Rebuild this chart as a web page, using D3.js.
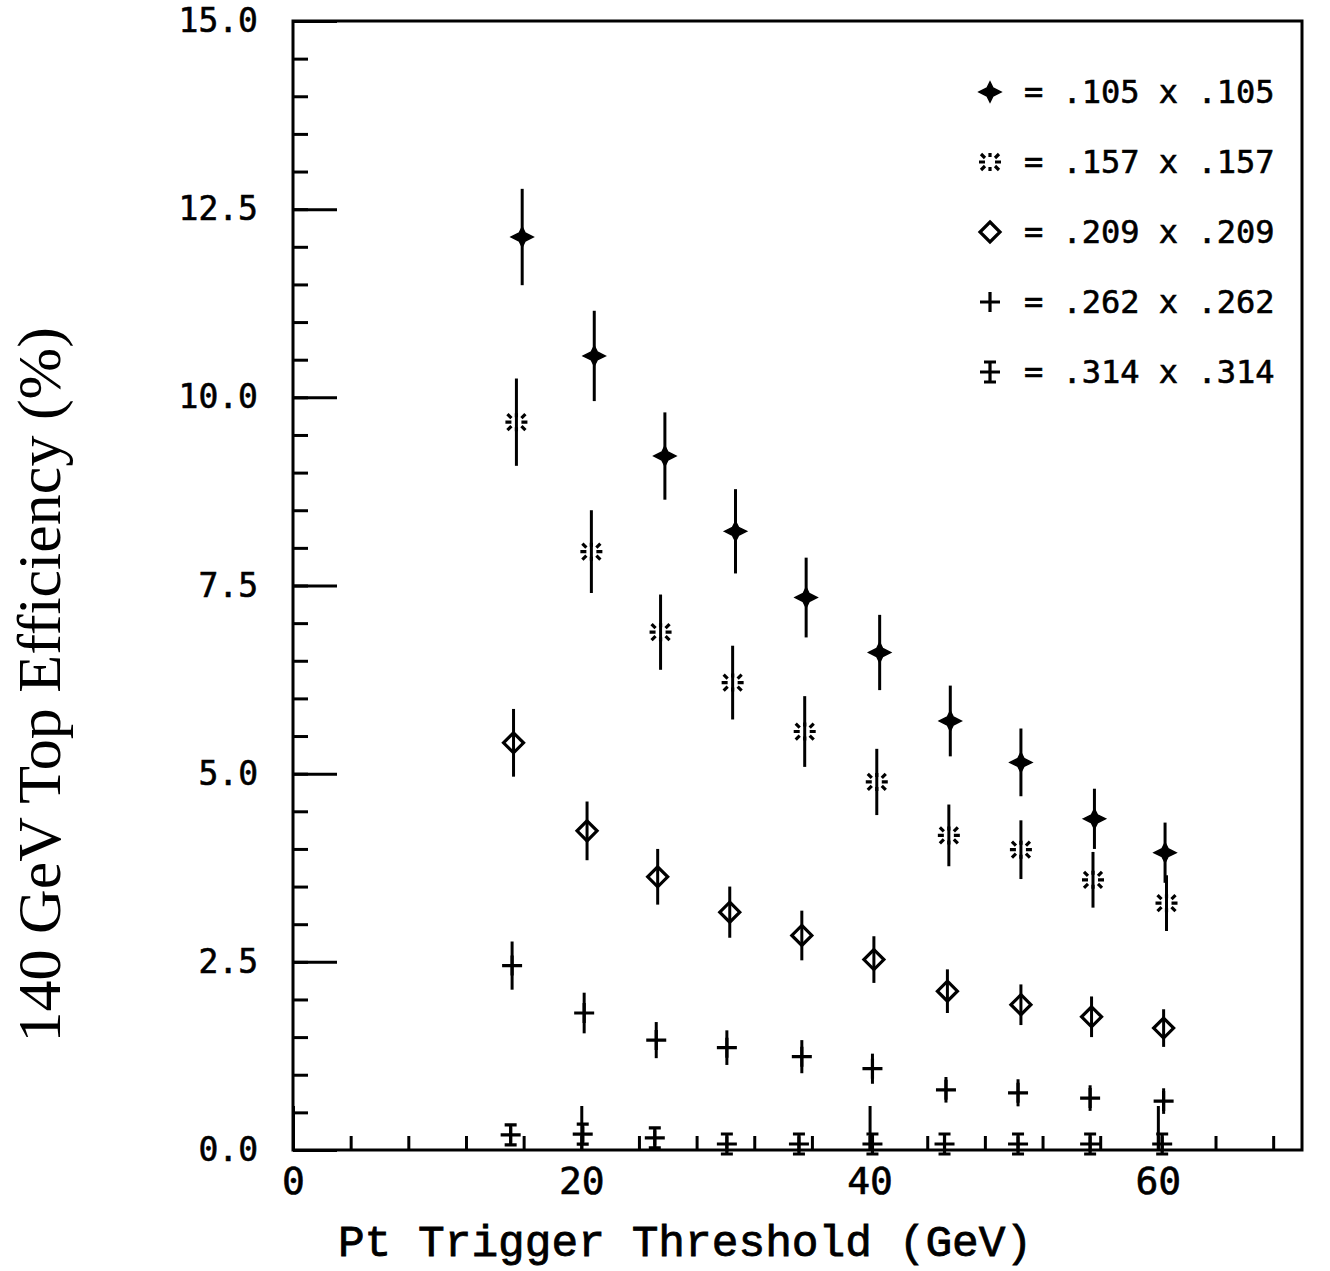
<!DOCTYPE html>
<html>
<head>
<meta charset="utf-8">
<script src="https://cdnjs.cloudflare.com/ajax/libs/d3/7.8.5/d3.min.js"></script>
<style>
    body { margin: 0; background: #fff; }
    .chart { width: 1330px; height: 1271px; }
    .chart__axis text { font-family: 'DejaVu Sans Mono', monospace; fill: #000; stroke: #000; stroke-width: 0.6px; }
    .chart__axis line { stroke: #000; stroke-width: 3px; }
    .chart__axis path { display: none; }
</style>
</head>
<body>
<div class="chart"></div>
<script>
'use strict';

// DATA *************************************************************************
// trigger threshold (GeV), efficiency (%) and error for each tower size
var SIZES = ['.105 x .105', '.157 x .157', '.209 x .209', '.262 x .262', '.314 x .314'];
var MARKERS = ['star', 'asterisk', 'diamond', 'plus', 'capcross'];

var pt105  = [15.9, 20.9, 25.8, 30.7, 35.6, 40.7, 45.6, 50.5, 55.6, 60.5];
var eff105 = [12.13, 10.55, 9.22, 8.22, 7.34, 6.61, 5.70, 5.15, 4.40, 3.95];
var err105 = [0.64, 0.60, 0.58, 0.56, 0.53, 0.50, 0.47, 0.45, 0.40, 0.40];

var pt157  = [15.5, 20.7, 25.5, 30.5, 35.5, 40.5, 45.5, 50.5, 55.5, 60.6];
var eff157 = [9.67, 7.95, 6.88, 6.21, 5.56, 4.89, 4.18, 3.99, 3.59, 3.28];
var err157 = [0.58, 0.55, 0.50, 0.49, 0.47, 0.44, 0.41, 0.39, 0.37, 0.37];

var pt209  = [15.3, 20.4, 25.3, 30.3, 35.3, 40.3, 45.4, 50.5, 55.4, 60.4];
var eff209 = [5.41, 4.24, 3.63, 3.16, 2.85, 2.53, 2.11, 1.93, 1.77, 1.62];
var err209 = [0.45, 0.39, 0.37, 0.34, 0.33, 0.31, 0.29, 0.27, 0.27, 0.25];

var pt262  = [15.2, 20.2, 25.2, 30.1, 35.3, 40.2, 45.3, 50.3, 55.3, 60.4];
var eff262 = [2.45, 1.82, 1.46, 1.36, 1.24, 1.08, 0.80, 0.76, 0.69, 0.65];
var err262 = [0.32, 0.27, 0.24, 0.23, 0.22, 0.20, 0.17, 0.18, 0.17, 0.17];

var pt314  = [15.1, 20.1, 25.1, 30.1, 35.1, 40.2, 45.2, 50.3, 55.3, 60.3];
var eff314 = [0.20, 0.21, 0.16, 0.08, 0.08, 0.08, 0.08, 0.08, 0.08, 0.08];
var err314 = [0.10, 0.10, 0.10, 0.10, 0.10, 0.10, 0.10, 0.10, 0.10, 0.10];

// tick values
var X_MAJOR = [0, 20, 40, 60];
var X_MINOR = d3.range(0, 70, 4);
var Y_MAJOR = [0, 2.5, 5, 7.5, 10, 12.5, 15];
var Y_MINOR = d3.range(0, 15, 0.5);

var ALL = [
    {pt: pt105, eff: eff105, err: err105},
    {pt: pt157, eff: eff157, err: err157},
    {pt: pt209, eff: eff209, err: err209},
    {pt: pt262, eff: eff262, err: err262},
    {pt: pt314, eff: eff314, err: err314}
];

// MARGIN CONVENTION ****************************************************************
var margin = {top: 21, right: 28, bottom: 121, left: 293};
var width = 1330 - margin.left - margin.right,
    height = 1271 - margin.top - margin.bottom;

var svg = d3.select('.chart').append('svg')
            .attr('width', 1330)
            .attr('height', 1271)
        .append('g')
            .attr('transform', 'translate(' + margin.left + ',' + margin.top + ')');

// SCALES
var xScale = d3.scaleLinear().domain([0, 70]).range([0, width]);
var yScale = d3.scaleLinear().domain([0, 15]).range([height, 0]);

// MARKER SHAPES (drawn around 0,0)
var shapes = {
    star: 'M-11,0L-3,-4L0,-10L3,-4L11,0L3,4L0,10L-3,4Z',
    asterisk: 'M-11,0H-5M5,0H11M0,-9V-5M0,5V9M-9,-8L-5,-4M9,-8L5,-4M-9,8L-5,4M9,8L5,4',
    diamond: 'M0,-10L10,0L0,10L-10,0Z',
    plus: 'M-10,0H10M0,-10V10',
    capcross: 'M-6,-10H6M0,-10V10M-6,10H6M-10,0H10'
};

function drawMarker(sel, type) {
    sel.append('path')
        .attr('d', shapes[type])
        .attr('fill', type === 'star' ? '#000' : 'none')
        .attr('stroke', '#000')
        .attr('stroke-width', type === 'star' ? 1.5 : 3.2);
}

// AXES *****************************************************************************
var yMinor = d3.axisLeft(yScale).tickValues(Y_MINOR).tickSize(-15).tickFormat('');
var yMajor = d3.axisLeft(yScale).tickValues(Y_MAJOR).tickSize(-44).tickPadding(35)
                .tickFormat(d3.format('.1f'));
var xMinor = d3.axisBottom(xScale).tickValues(X_MINOR).tickSize(-14).tickFormat('');
var xMajor = d3.axisBottom(xScale).tickValues(X_MAJOR).tickSize(-44).tickPadding(17)
                .tickFormat(d3.format('d'));

svg.append('g').attr('class', 'chart__axis').call(yMinor);
svg.append('g').attr('class', 'chart__axis chart__axis--y').call(yMajor)
    .selectAll('text').style('font-size', '33px');
svg.append('g').attr('class', 'chart__axis')
    .attr('transform', 'translate(0,' + height + ')').call(xMinor);
svg.append('g').attr('class', 'chart__axis chart__axis--x')
    .attr('transform', 'translate(0,' + height + ')').call(xMajor)
    .selectAll('text').style('font-size', '38px');

// FRAME
svg.append('rect')
    .attr('width', width)
    .attr('height', height)
    .attr('fill', 'none')
    .attr('stroke', '#000')
    .attr('stroke-width', 3);

// AXIS TITLES
svg.append('text')
    .attr('x', xScale(27.2))
    .attr('y', height + 106)
    .attr('text-anchor', 'middle')
    .style('font-family', "'Liberation Mono', monospace")
    .style('font-size', '44.5px')
    .style('stroke', '#000')
    .style('stroke-width', '0.8px')
    .text('Pt Trigger Threshold (GeV)');

svg.append('text')
    .attr('transform', 'translate(' + (-margin.left + 60) + ',' + (yScale(6.18)) + ') rotate(-90)')
    .attr('text-anchor', 'middle')
    .style('font-family', "'Liberation Serif', serif")
    .style('font-size', '62px')
    .text('140 GeV Top Efficiency (%)');

// DATA POINTS ********************************************************************
ALL.forEach(function(s, k) {
    var pts = s.pt.map(function(p, i) {
        return {pt: p, eff: s.eff[i], err: s.err[i]};
    });
    var g = svg.append('g').attr('class', 'chart__series');

    // error bars
    g.selectAll('line')
        .data(pts)
        .enter()
        .append('line')
        .attr('x1', function(d) { return xScale(d.pt); })
        .attr('x2', function(d) { return xScale(d.pt); })
        .attr('y1', function(d) { return yScale(d.eff - d.err); })
        .attr('y2', function(d) { return yScale(d.eff + d.err); })
        .attr('stroke', '#000')
        .attr('stroke-width', 3);

    // markers
    g.selectAll('g.point')
        .data(pts)
        .enter()
        .append('g')
        .attr('class', 'point')
        .attr('transform', function(d) {
            return 'translate(' + xScale(d.pt) + ',' + yScale(d.eff) + ')';
        })
        .each(function() { drawMarker(d3.select(this), MARKERS[k]); });
});

// LEGEND ****************************************************************************
var legend = svg.append('g')
                .attr('transform', 'translate(' + (990 - margin.left) + ',' + (92 - margin.top) + ')');

var rows = legend.selectAll('g')
                .data(SIZES)
                .enter()
                .append('g')
                .attr('transform', function(d, i) { return 'translate(0,' + (i * 70) + ')'; });

rows.each(function(d, i) { drawMarker(d3.select(this), MARKERS[i]); });

rows.append('text')
    .attr('x', 34)
    .attr('dy', '0.35em')
    .style('font-family', "'DejaVu Sans Mono', monospace")
    .style('font-size', '32px')
    .style('stroke', '#000')
    .style('stroke-width', '0.6px')
    .text(function(d) { return '= ' + d; });
</script>
</body>
</html>
